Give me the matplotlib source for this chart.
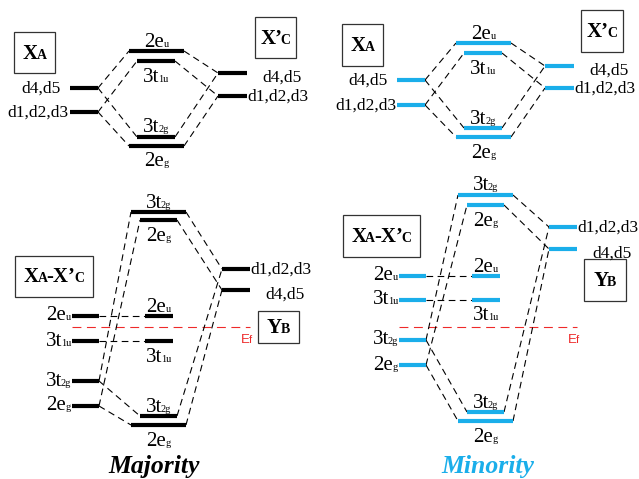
import matplotlib
matplotlib.use('Agg')
import matplotlib.pyplot as plt
from matplotlib.patches import Rectangle
from matplotlib.offsetbox import TextArea, HPacker, AnnotationBbox

plt.rcParams['font.family'] = ['Liberation Serif', 'DejaVu Serif']

# level names and labels (main text, subscript) of the upper (X_A / X'_C) diagrams
top_names = ['L_d45', 'L_d123', 'eu', 't1u', 't2g', 'eg', 'R_d45', 'R_d123']
top_labels = [('d4,d5', ''), ('d1,d2,d3', ''), ('2e', 'u'), ('3t', '1u'),
              ('3t', '2g'), ('2e', 'g'), ('d4,d5', ''), ('d1,d2,d3', '')]
maj_top_y = [88, 112, 51, 61, 137, 146, 73, 96]
min_top_y = [80, 105, 43, 53, 128, 137, 66, 88]

# level names and labels of the lower (X_A-X'_C / Y_B) diagrams
bot_names = ['T_t2g', 'T_eg', 'L_eu', 'L_t1u', 'L_t2g', 'L_eg',
             'M_eu', 'M_t1u', 'B_t2g', 'B_eg', 'R_d123', 'R_d45']
bot_labels = [('3t', '2g'), ('2e', 'g'), ('2e', 'u'), ('3t', '1u'), ('3t', '2g'),
              ('2e', 'g'), ('2e', 'u'), ('3t', '1u'), ('3t', '2g'), ('2e', 'g'),
              ('d1,d2,d3', ''), ('d4,d5', '')]
maj_bot_y = [212, 220, 316, 341, 381, 406, 316, 341, 416, 425, 269, 290]
min_bot_y = [195, 205, 276, 300, 340, 365, 276, 300, 412, 421, 227, 249]
ef_y = [327, 327]

top_links = [('L_d45', 'eu'), ('L_d45', 't2g'), ('L_d123', 't1u'), ('L_d123', 'eg'),
             ('eu', 'R_d45'), ('t2g', 'R_d45'), ('t1u', 'R_d123'), ('eg', 'R_d123')]
bot_links = [('L_t2g', 'T_t2g'), ('L_t2g', 'B_t2g'), ('L_eg', 'T_eg'), ('L_eg', 'B_eg'),
             ('L_eu', 'M_eu'), ('L_t1u', 'M_t1u'),
             ('T_t2g', 'R_d123'), ('T_eg', 'R_d45'), ('B_t2g', 'R_d123'), ('B_eg', 'R_d45')]

# layout: x extent of each level (majority side) and where its label goes
top_cols = {'L_d45': (70, 98), 'L_d123': (70, 98), 'eu': (129, 184), 't1u': (137, 175),
            't2g': (137, 175), 'eg': (129, 184), 'R_d45': (218, 247), 'R_d123': (218, 247)}
top_place = ['left_gap', 'left', 'above', 'below', 'above', 'below', 'right_gap', 'right']
bot_cols = {'T_t2g': (131, 186), 'T_eg': (140, 177), 'L_eu': (72, 99), 'L_t1u': (72, 99),
            'L_t2g': (72, 99), 'L_eg': (72, 99), 'M_eu': (145, 173), 'M_t1u': (145, 173),
            'B_t2g': (140, 177), 'B_eg': (131, 186), 'R_d123': (222, 250), 'R_d45': (222, 250)}
bot_place = ['above', 'below', 'left', 'left', 'left', 'left',
             'above', 'below', 'above', 'below', 'right', 'right_gap']
shift = 327   # minority panels sit to the right

BLUE = '#1aaeea'
RED = '#ee2a2a'
DASH = (0, (6, 4))

fig = plt.figure(figsize=(6.39, 4.79), dpi=100)
ax = fig.add_axes([0, 0, 1, 1])
ax.set_xlim(0, 639)
ax.set_ylim(479, 0)
ax.axis('off')


def put_label(x, base, main, sub, fs, ha):
    # main text with a small subscript sitting on the same baseline
    kids = [TextArea(main, textprops=dict(fontsize=fs))]
    if sub:
        kids.append(TextArea(sub, textprops=dict(fontsize=7.5)))
    gap = -1 if main.endswith('t') else 0
    pack = HPacker(children=kids, align='baseline', pad=0, sep=gap)
    bx = {'center': 0.5, 'left': 0.0, 'right': 1.0}[ha]
    desc = 0.216 * fs * 100 / 72
    ab = AnnotationBbox(pack, (x, base + desc), box_alignment=(bx, 0), frameon=False)
    ax.add_artist(ab)


def draw_levels(names, labels, ys, cols, places, links, dx, color):
    pos = {}
    for n, (main, sub), y, pl in zip(names, labels, ys, places):
        x0, x1 = cols[n]
        x0 += dx
        x1 += dx
        pos[n] = (x0, x1, y)
        ax.plot([x0, x1], [y, y], color=color, lw=3.0, solid_capstyle='butt', zorder=3)
        fs = 12.5 if main.startswith('d') else 15
        if pl == 'above':
            put_label((x0 + x1) / 2, y - 4, main, sub, fs, 'center')
        elif pl == 'below':
            put_label((x0 + x1) / 2, y + 21, main, sub, fs, 'center')
        elif pl == 'left':
            put_label(x0 - 1, y + 5, main, sub, fs, 'right')
        elif pl == 'left_gap':
            put_label(x0 - 9, y + 5, main, sub, fs, 'right')
        elif pl == 'right':
            put_label(x1, y + 5, main, sub, fs, 'left')
        elif pl == 'right_gap':
            put_label(x1 + 15, y + 9, main, sub, fs, 'left')
    for a, b in links:
        xa0, xa1, ya = pos[a]
        xb0, xb1, yb = pos[b]
        ax.plot([xa1, xb0], [ya, yb], color='black', lw=0.8, ls=DASH, zorder=2)
    return pos


def box_label(parts, x0, y0, x1, y1):
    ax.add_patch(Rectangle((x0, y0), x1 - x0, y1 - y0, fill=False,
                           edgecolor='#333333', lw=0.9))
    kids = [TextArea(t, textprops=dict(fontsize=s, fontweight='bold'))
            for t, s in parts]
    pack = HPacker(children=kids, align='baseline', pad=0, sep=-1)
    ab = AnnotationBbox(pack, ((x0 + x1) / 2, (y0 + y1) / 2 + 1), frameon=False,
                        box_alignment=(0.5, 0.5))
    ax.add_artist(ab)


xa = [('X', 15), ('A', 10)]
xc = [('X\u2019', 15), ('C', 10)]
xac = [('X', 15), ('A', 10), ('-X\u2019', 15), ('C', 10)]
yb = [('Y', 15), ('B', 10)]

for i, (ty, by, col) in enumerate([(maj_top_y, maj_bot_y, 'black'),
                                   (min_top_y, min_bot_y, BLUE)]):
    dx = shift * i
    draw_levels(top_names, top_labels, ty, top_cols, top_place, top_links, dx, col)
    draw_levels(bot_names, bot_labels, by, bot_cols, bot_place, bot_links, dx, col)
    ax.plot([72 + dx, 250 + dx], [ef_y[i], ef_y[i]], color=RED, lw=0.8,
            ls=(0, (8, 5)), zorder=1)
    ax.text(241 + dx, ef_y[i] + 16, 'E', color=RED, family='Liberation Sans',
            fontsize=9.5, ha='left', va='baseline')
    ax.text(249 + dx, ef_y[i] + 16, 'f', color=RED, family='Liberation Sans',
            fontsize=8, ha='left', va='baseline')

box_label(xa, 14, 32, 55, 73)
box_label(xc, 255, 17, 296, 58)
box_label(xac, 15, 256, 93, 297)
box_label(yb, 258, 311, 299, 343)
box_label(xa, 342, 24, 383, 66)
box_label(xc, 581, 10, 623, 52)
box_label(xac, 343, 215, 420, 257)
box_label(yb, 584, 259, 626, 301)

ax.text(154, 467, 'Majority', fontsize=18.5, fontweight='bold', fontstyle='italic',
        ha='center', va='center', color='black')
ax.text(488, 466, 'Minority', fontsize=18.5, fontweight='bold', fontstyle='italic',
        ha='center', va='center', color=BLUE)

fig.savefig('out.png', dpi=100)
